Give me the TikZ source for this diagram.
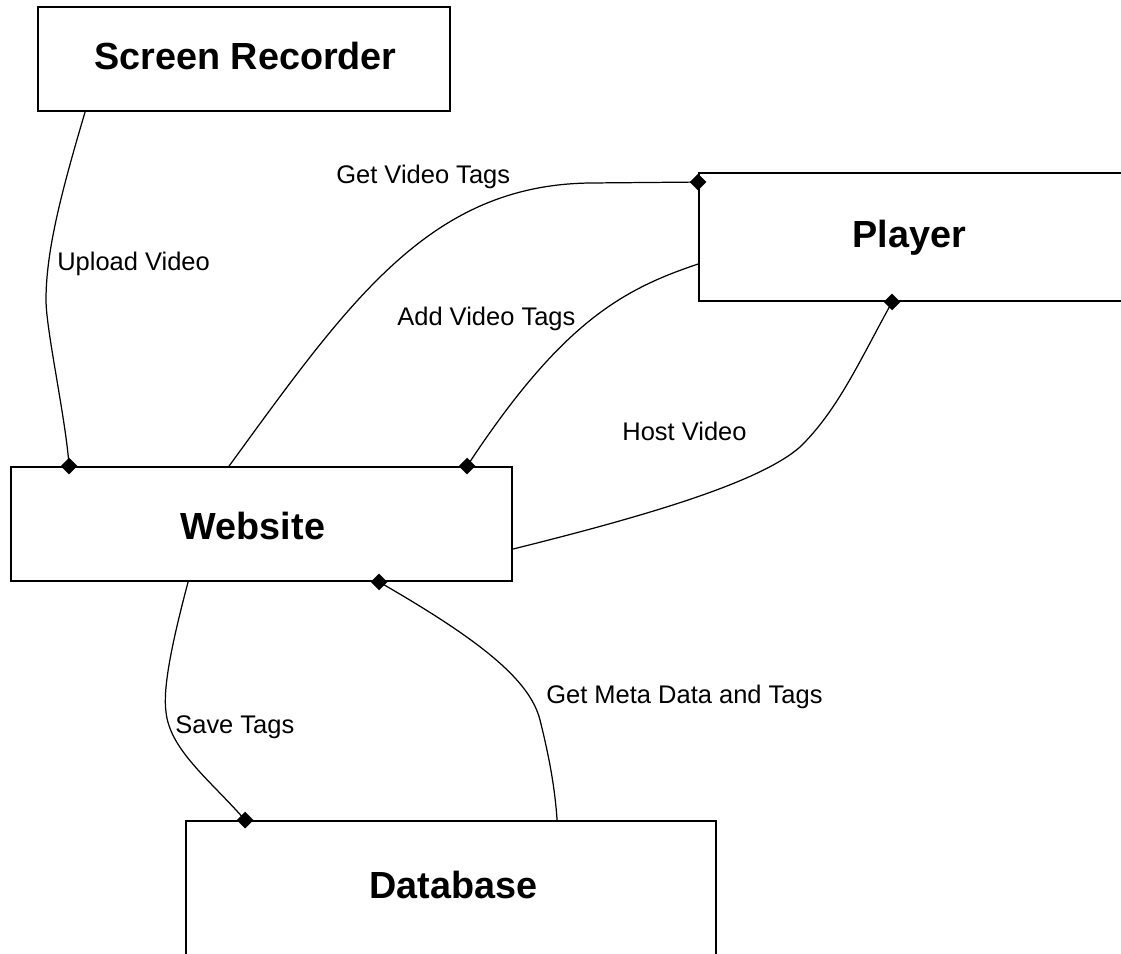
\documentclass[tikz,border=0pt]{standalone}
\usepackage{fontspec}
\setmainfont{Liberation Sans}
\usetikzlibrary{shapes.geometric, calc}

\tikzset{
  box/.style={draw, line width=1.1pt, inner sep=0pt},
  title/.style={font=\fontsize{21.5}{24}\selectfont\bfseries, inner sep=0pt, anchor=base},
  flow/.style={line width=0.7pt},
  flowlabel/.style={font=\fontsize{14.5}{17}\selectfont, inner sep=0pt, anchor=base west},
  pin/.style={diamond, aspect=1, fill=black, inner sep=0pt, minimum size=0.34cm}
}

\begin{document}
\begin{tikzpicture}[x=0.02cm, y=-0.02cm]
\useasboundingbox (0,0) rectangle (1121,953);
\clip (0,0) rectangle (1121,953);

% boxes
\node[box, minimum width=8.24cm, minimum height=2.08cm] (rec) at (244,59) {};
\node[box, minimum width=9.2cm, minimum height=2.56cm] (ply) at (929,237) {};
\node[box, minimum width=10.02cm, minimum height=2.28cm] (web) at (261.5,524) {};
\node[box, minimum width=10.6cm, minimum height=3.6cm] (db) at (451,911) {};

\node[title] (recT) at (245.5,70) {Screen Recorder};
\node[title] (plyT) at (909,247) {Player};
\node[title] (webT) at (253,539) {Website};
\node[title] (dbT) at (453.5,898) {Database};

% end points
\node[pin] (upPin) at ($(web.north west)+(59,0)$) {};
\node[pin] (getPin) at ($(ply.north west)+(0,10)$) {};
\node[pin] (addPin) at ($(web.north west)+(457,0)$) {};
\node[pin] (hostPin) at ($(ply.south west)+(194,0)$) {};
\node[pin] (savePin) at ($(db.north west)+(60,0)$) {};
\node[pin] (metaPin) at ($(web.south west)+(369,0)$) {};

\coordinate (upOut) at ($(rec.south west)+(48,0)$);
\coordinate (getOut) at ($(web.north west)+(219,0)$);
\coordinate (addOut) at ($(ply.north west)+(0,92)$);
\coordinate (hostOut) at ($(web.north east)+(0,83)$);
\coordinate (saveOut) at ($(web.south west)+(178,0)$);
\coordinate (metaOut) at ($(db.north west)+(372,0)$);

% connectors
\draw[flow] (upOut) .. controls (62,190) and (46,250) .. (46,300) .. controls (46,330) and (66,420) .. (upPin.center);
\draw[flow] (getOut) .. controls (350,300) and (430,185) .. (590,183) -- (getPin.center);
\draw[flow] (addOut) .. controls (620,290) and (560,325) .. (addPin.center);
\draw[flow] (hostOut) .. controls (650,515) and (760,482) .. (800,447) .. controls (838,410) and (860,360) .. (hostPin.center);
\draw[flow] (saveOut) .. controls (170,650) and (163,690) .. (166,712) .. controls (170,750) and (210,780) .. (savePin.center);
\draw[flow] (metaPin.center) .. controls (480,640) and (530,680) .. (540,720) .. controls (550,760) and (555,790) .. (metaOut);

\node[flowlabel] (upL) at (57,270) {Upload Video};
\node[flowlabel] (getL) at (336,183) {Get Video Tags};
\node[flowlabel] (addL) at (397,325) {Add Video Tags};
\node[flowlabel] (hostL) at (622,440) {Host Video};
\node[flowlabel] (saveL) at (175,733) {Save Tags};
\node[flowlabel] (metaL) at (546,703) {Get Meta Data and Tags};
\end{tikzpicture}
\end{document}
